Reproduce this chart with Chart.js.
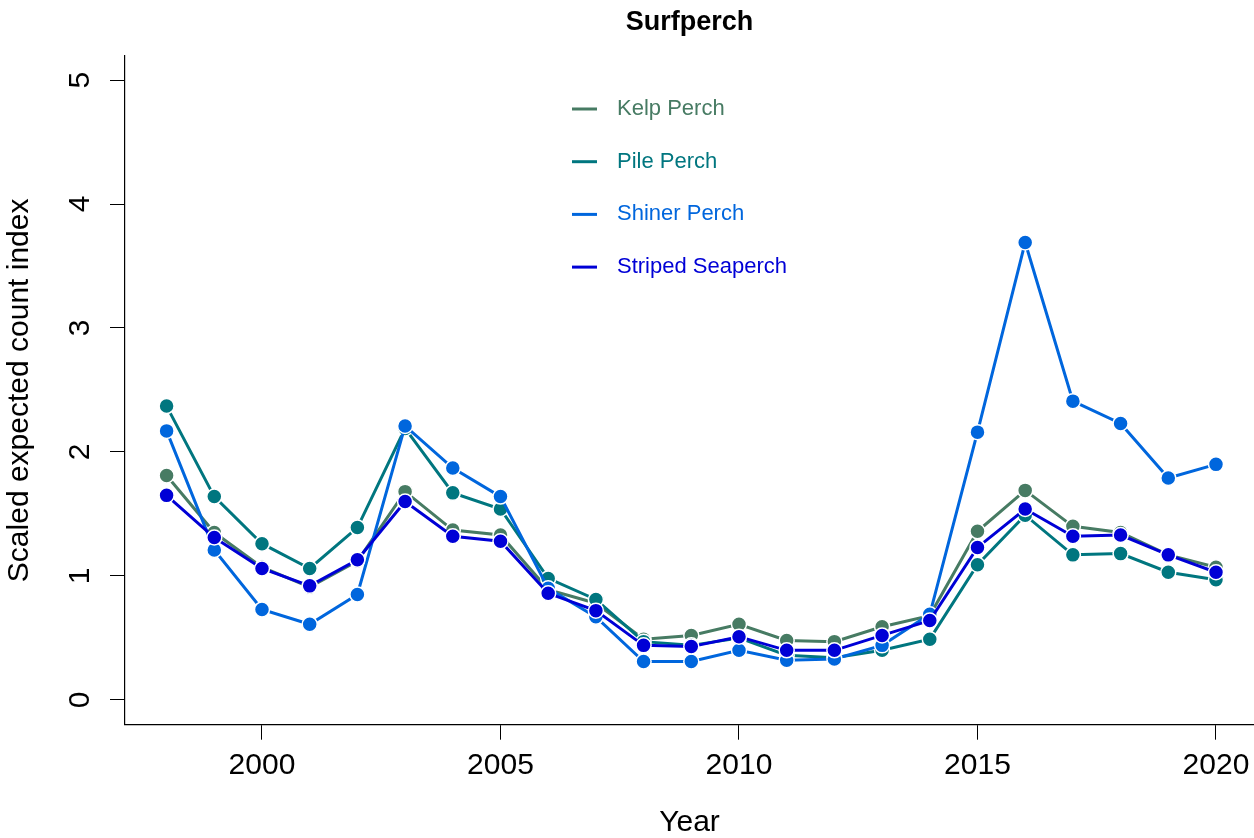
<!DOCTYPE html>
<html>
<head>
<meta charset="utf-8">
<script src="https://cdn.jsdelivr.net/npm/chart.js@4/dist/chart.umd.min.js"></script>
<style>
  html, body { margin: 0; padding: 0; background: #fff; }
  #wrap { width: 1254px; height: 838px; position: relative; }
</style>
</head>
<body>
<div id="wrap"><canvas id="surfChart"></canvas></div>
<script>
// data
const years = [1998, 1999, 2000, 2001, 2002, 2003, 2004, 2005, 2006, 2007, 2008,
               2009, 2010, 2011, 2012, 2013, 2014, 2015, 2016, 2017, 2018, 2019, 2020];
const kelpPerch = [1.81, 1.35, 1.07, 0.91, 1.12, 1.68, 1.37, 1.33, 0.89, 0.78, 0.49, 0.52,
                   0.61, 0.48, 0.47, 0.59, 0.68, 1.36, 1.69, 1.40, 1.35, 1.17, 1.07];
const pilePerch = [2.37, 1.64, 1.26, 1.06, 1.39, 2.19, 1.67, 1.54, 0.98, 0.81, 0.47, 0.44,
                   0.50, 0.36, 0.34, 0.40, 0.49, 1.09, 1.49, 1.17, 1.18, 1.03, 0.97];
const shinerPerch = [2.17, 1.21, 0.73, 0.61, 0.85, 2.21, 1.87, 1.64, 0.90, 0.67, 0.31, 0.31,
                     0.40, 0.32, 0.33, 0.44, 0.69, 2.16, 3.69, 2.41, 2.23, 1.79, 1.90];
const stripedSeaperch = [1.65, 1.31, 1.06, 0.92, 1.13, 1.60, 1.32, 1.28, 0.86, 0.72, 0.44, 0.43,
                         0.51, 0.40, 0.40, 0.52, 0.64, 1.23, 1.54, 1.32, 1.33, 1.17, 1.03];

const seriesNames = ["Kelp Perch", "Pile Perch", "Shiner Perch", "Striped Seaperch"];
const seriesColors = ["#477B63", "#00767F", "#0066DD", "#0000D6"];
const xTicks = [2000, 2005, 2010, 2015, 2020];
const yTicks = [0, 1, 2, 3, 4, 5];

const FONT = "'Liberation Sans', Arial, Helvetica, sans-serif";

function toPoints(vals) {
    return years.map((yr, i) => ({ x: yr, y: vals[i] }));
}

const allSeries = [kelpPerch, pilePerch, shinerPerch, stripedSeaperch];

const datasets = allSeries.map((vals, i) => ({
    label: seriesNames[i],
    data: toPoints(vals),
    borderColor: seriesColors[i],
    backgroundColor: seriesColors[i],
    borderWidth: 3,
    pointRadius: 7.5,
    pointBorderColor: "#ffffff",
    pointBorderWidth: 1.5,
    pointBackgroundColor: seriesColors[i],
    tension: 0,
    // later series sit on top, like in the original plot
    order: allSeries.length - i
}));

// legend drawn inside the plot, text in series colours
const insideLegend = {
    id: "insideLegend",
    afterDraw(chart) {
        const ctx = chart.ctx;
        ctx.save();
        ctx.font = "22px " + FONT;
        ctx.textBaseline = "middle";
        ctx.textAlign = "left";
        chart.data.datasets.forEach((ds, i) => {
            const y = 109 + i * 52.7;
            ctx.strokeStyle = ds.borderColor;
            ctx.lineWidth = 3;
            ctx.beginPath();
            ctx.moveTo(572, y);
            ctx.lineTo(597, y);
            ctx.stroke();
            ctx.fillStyle = ds.borderColor;
            ctx.fillText(ds.label, 617, y);
        });
        ctx.restore();
    }
};

const ctx = document.getElementById("surfChart").getContext("2d");

new Chart(ctx, {
    type: "line",
    data: { datasets: datasets },
    options: {
        responsive: true,
        maintainAspectRatio: false,
        animation: false,
        layout: { padding: 0, autoPadding: false },
        plugins: {
            legend: { display: false },
            tooltip: { enabled: false },
            title: {
                display: true,
                text: "Surfperch",
                fullSize: false,
                color: "#000",
                font: { family: FONT, size: 27, weight: "bold", lineHeight: 1.2 },
                padding: { top: 6, bottom: 17.6 }
            }
        },
        scales: {
            x: {
                type: "linear",
                min: 1997.128,
                max: 2020.797,
                afterBuildTicks: (scale) => {
                    scale.ticks = xTicks.map(v => ({ value: v }));
                },
                afterFit: (scale) => {
                    scale.height = 113.3;
                    scale.paddingLeft = 0;
                    scale.paddingRight = 0;
                },
                grid: {
                    drawOnChartArea: false,
                    drawTicks: true,
                    tickLength: 15,
                    tickColor: "#000",
                    tickWidth: 1
                },
                border: { display: true, color: "#000", width: 1.2 },
                ticks: {
                    color: "#000",
                    padding: 8,
                    maxRotation: 0,
                    callback: (v) => String(v),
                    font: { family: FONT, size: 30, lineHeight: 1.2 }
                },
                title: {
                    display: true,
                    text: "Year",
                    color: "#000",
                    font: { family: FONT, size: 30, lineHeight: 1 },
                    padding: { top: 0, bottom: 0 }
                }
            },
            y: {
                type: "linear",
                min: -0.2,
                max: 5.194,
                afterBuildTicks: (scale) => {
                    scale.ticks = yTicks.map(v => ({ value: v }));
                },
                afterFit: (scale) => {
                    scale.width = 125;
                    scale.paddingTop = 0;
                    scale.paddingBottom = 0;
                },
                grid: {
                    drawOnChartArea: false,
                    drawTicks: true,
                    tickLength: 15,
                    tickColor: "#000",
                    tickWidth: 1
                },
                border: { display: true, color: "#000", width: 1.2 },
                ticks: {
                    color: "#000",
                    padding: 21,
                    minRotation: 90,
                    maxRotation: 90,
                    crossAlign: "center",
                    callback: (v) => String(v),
                    font: { family: FONT, size: 30, lineHeight: 1.2 }
                },
                title: {
                    display: true,
                    text: "Scaled expected count index",
                    color: "#000",
                    font: { family: FONT, size: 30, lineHeight: 1 },
                    padding: { top: 5, bottom: 0 }
                }
            }
        }
    },
    plugins: [insideLegend]
});
</script>
</body>
</html>
